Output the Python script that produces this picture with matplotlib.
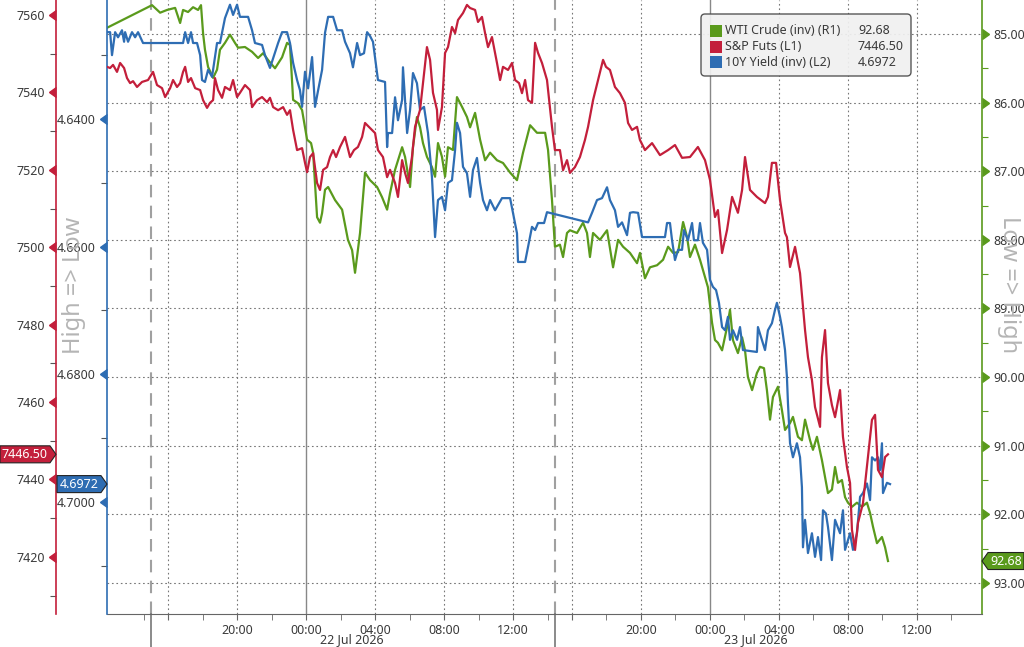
import matplotlib
matplotlib.use('Agg')
import matplotlib.pyplot as plt
import matplotlib.transforms as mtransforms
from matplotlib.patches import Polygon, Rectangle, FancyBboxPatch
from matplotlib.ticker import MultipleLocator, FormatStrFormatter
from matplotlib.markers import CARETRIGHTBASE, CARETLEFTBASE

# time = hours from 22 Jul 00:00 on a session axis (14:25-15:00 halt squeezed out)
wti_pts = [(-11.54, 84.91), (-8.93, 84.58), (-8.46, 84.69), (-8.06, 84.65), (-7.59, 84.62), (-7.30, 84.84),
           (-7.13, 84.65), (-6.84, 84.68), (-6.55, 84.61), (-6.26, 84.65), (-6.09, 84.58), (-5.97, 84.99),
           (-5.86, 85.23), (-5.68, 85.48), (-5.39, 85.64), (-5.16, 85.52), (-4.99, 85.23), (-4.70, 85.13),
           (-4.41, 85.01), (-4.12, 85.13), (-3.94, 85.20), (-3.54, 85.19), (-3.13, 85.26), (-2.78, 85.35),
           (-2.49, 85.28), (-2.20, 85.38), (-1.80, 85.50), (-1.39, 85.34), (-1.10, 85.13), (-0.93, 85.16),
           (-0.75, 85.96), (-0.46, 86.01), (-0.23, 86.11), (0.06, 86.54), (0.29, 86.59), (0.41, 86.73),
           (0.64, 87.67), (0.81, 87.75), (0.93, 87.61), (1.10, 87.27), (1.28, 87.23), (1.68, 87.42),
           (2.09, 87.56), (2.43, 88.00), (2.67, 88.15), (2.84, 88.48), (3.13, 87.90), (3.42, 87.02),
           (3.71, 87.13), (4.12, 87.23), (4.41, 87.38), (4.70, 87.56), (4.87, 87.32), (5.16, 86.98),
           (5.57, 86.65), (5.74, 86.79), (6.03, 87.23), (6.20, 86.65), (6.43, 86.21), (6.61, 86.36),
           (6.78, 86.59), (7.01, 86.79), (7.30, 86.94), (7.48, 87.08), (7.65, 86.59), (7.88, 86.79),
           (8.06, 87.08), (8.23, 86.65), (8.52, 86.69), (8.75, 85.92), (9.04, 86.06), (9.33, 86.21),
           (9.51, 86.36), (9.80, 86.15), (10.09, 86.54), (10.38, 86.84), (10.67, 86.73), (11.07, 86.84),
           (11.42, 86.88), (11.83, 87.02), (12.23, 87.13), (12.58, 86.73), (12.99, 86.33), (13.39, 86.44),
           (13.86, 86.44), (14.03, 86.69), (14.26, 87.42), (14.43, 88.10), (14.72, 88.07), (14.90, 88.25),
           (15.13, 87.90), (15.30, 87.86), (15.71, 87.90), (16.06, 87.75), (16.29, 87.90), (16.46, 88.25),
           (16.64, 87.90), (17.04, 88.00), (17.45, 87.86), (17.80, 88.40), (18.09, 88.00), (18.38, 88.10),
           (18.78, 88.19), (19.19, 88.34), (19.36, 88.19), (19.65, 88.56), (19.94, 88.40), (20.35, 88.37),
           (20.70, 88.29), (20.99, 88.10), (21.28, 88.19), (21.57, 88.18), (21.86, 87.74), (22.09, 87.96),
           (22.26, 88.25), (22.55, 88.07), (22.84, 88.29), (23.13, 88.54), (23.30, 88.69), (23.54, 89.21),
           (23.71, 89.46), (23.88, 89.50), (24.12, 89.61), (24.41, 89.27), (24.58, 89.02), (24.75, 89.46),
           (25.04, 89.65), (25.28, 89.42), (25.45, 89.61), (25.62, 90.00), (25.86, 90.19), (26.14, 89.94),
           (26.32, 89.85), (26.55, 89.87), (26.72, 90.19), (26.90, 90.62), (27.07, 90.29), (27.36, 90.14),
           (27.59, 90.48), (27.77, 90.77), (28.06, 90.67), (28.23, 90.58), (28.52, 90.87), (28.75, 90.92),
           (28.93, 90.62), (29.22, 90.92), (29.39, 91.06), (29.62, 90.87), (29.91, 91.21), (30.09, 91.46),
           (30.26, 91.69), (30.49, 91.64), (30.67, 91.31), (30.84, 91.54), (31.07, 91.50), (31.25, 91.75),
           (31.42, 91.83), (31.65, 91.89), (31.94, 91.83), (32.23, 91.89), (32.52, 91.83), (32.70, 91.98),
           (32.87, 92.18), (33.10, 92.42), (33.39, 92.33), (33.57, 92.48), (33.74, 92.68)]

spx_pts = [(-11.54, 7546.6), (-11.36, 7546.3), (-11.19, 7547.1), (-10.96, 7545.3), (-10.78, 7547.6),
           (-10.55, 7546.3), (-10.38, 7543.7), (-10.20, 7542.4), (-10.03, 7542.9), (-9.80, 7541.4),
           (-9.51, 7542.7), (-9.16, 7543.2), (-8.87, 7545.3), (-8.64, 7541.9), (-8.35, 7541.1),
           (-8.17, 7538.8), (-7.88, 7541.1), (-7.71, 7543.2), (-7.48, 7541.4), (-7.30, 7542.4),
           (-7.13, 7545.3), (-7.01, 7546.6), (-6.84, 7542.7), (-6.67, 7543.7), (-6.43, 7541.1),
           (-6.14, 7540.6), (-5.97, 7538.0), (-5.74, 7536.0), (-5.57, 7537.3), (-5.39, 7538.0),
           (-5.28, 7543.7), (-5.10, 7540.6), (-4.87, 7538.6), (-4.70, 7541.4), (-4.41, 7540.6),
           (-4.23, 7543.2), (-4.00, 7538.8), (-3.83, 7539.9), (-3.54, 7541.9), (-3.25, 7540.6),
           (-3.13, 7536.2), (-2.84, 7538.0), (-2.55, 7538.8), (-2.26, 7537.5), (-2.09, 7538.6),
           (-1.91, 7536.2), (-1.62, 7535.4), (-1.33, 7536.2), (-1.10, 7534.2), (-0.93, 7535.4),
           (-0.75, 7530.3), (-0.52, 7525.1), (-0.23, 7525.6), (-0.06, 7521.8), (0.06, 7519.4),
           (0.23, 7523.3), (0.41, 7524.3), (0.64, 7516.6), (0.81, 7514.8), (0.99, 7520.0),
           (1.22, 7520.7), (1.39, 7523.3), (1.57, 7525.1), (1.74, 7523.3), (1.97, 7525.9),
           (2.26, 7528.5), (2.55, 7523.3), (2.78, 7525.1), (3.01, 7525.9), (3.25, 7528.5),
           (3.42, 7532.1), (3.71, 7530.8), (4.00, 7529.5), (4.17, 7525.1), (4.46, 7523.3),
           (4.70, 7518.1), (4.87, 7520.0), (5.16, 7516.6), (5.33, 7513.0), (5.57, 7522.5),
           (5.74, 7519.2), (5.91, 7516.6), (6.14, 7523.3), (6.32, 7531.1), (6.61, 7535.5),
           (6.78, 7542.4), (7.01, 7551.7), (7.19, 7548.4), (7.36, 7539.9), (7.59, 7535.5),
           (7.65, 7530.3), (7.88, 7536.2), (8.06, 7550.2), (8.23, 7551.7), (8.46, 7556.9),
           (8.64, 7555.3), (8.81, 7558.7), (9.10, 7560.5), (9.33, 7562.6), (9.51, 7561.8),
           (9.80, 7561.3), (9.97, 7558.2), (10.20, 7559.5), (10.38, 7555.3), (10.55, 7551.7),
           (10.78, 7554.3), (11.07, 7547.6), (11.25, 7543.2), (11.42, 7546.6), (11.71, 7545.8),
           (11.94, 7547.6), (12.12, 7543.2), (12.35, 7542.4), (12.52, 7539.8), (12.70, 7543.2),
           (12.87, 7538.0), (13.10, 7537.3), (13.28, 7552.8), (13.45, 7550.2), (13.68, 7547.6),
           (13.97, 7543.2), (14.26, 7531.1), (14.43, 7525.1), (14.72, 7525.1), (14.90, 7519.9),
           (15.13, 7522.5), (15.30, 7519.2), (15.59, 7520.7), (15.88, 7523.3), (16.17, 7527.7),
           (16.35, 7531.1), (16.64, 7538.0), (16.93, 7543.2), (17.22, 7548.4), (17.39, 7546.6),
           (17.62, 7545.8), (17.91, 7541.4), (18.20, 7539.8), (18.49, 7537.3), (18.67, 7532.1),
           (18.90, 7530.3), (19.19, 7531.1), (19.36, 7527.7), (19.65, 7525.1), (20.06, 7526.9),
           (20.52, 7523.8), (20.99, 7525.1), (21.39, 7526.4), (21.80, 7523.1), (22.26, 7523.3),
           (22.72, 7525.9), (23.13, 7522.5), (23.42, 7517.4), (23.71, 7507.8), (23.88, 7509.6),
           (24.12, 7498.5), (24.41, 7504.5), (24.70, 7513.0), (25.04, 7508.9), (25.28, 7514.8),
           (25.45, 7523.3), (25.74, 7514.8), (26.14, 7513.0), (26.61, 7511.4), (26.78, 7513.0),
           (27.01, 7521.8), (27.25, 7521.8), (27.48, 7512.2), (27.77, 7503.7), (27.88, 7502.6),
           (28.06, 7494.9), (28.35, 7500.1), (28.64, 7493.3), (28.93, 7478.6), (29.10, 7471.6),
           (29.33, 7465.7), (29.51, 7458.7), (29.80, 7453.6), (29.91, 7471.6), (30.09, 7478.6),
           (30.26, 7464.9), (30.49, 7459.2), (30.67, 7456.1), (30.96, 7463.1), (31.13, 7451.0),
           (31.36, 7443.2), (31.54, 7439.1), (31.65, 7427.0), (31.83, 7421.8), (32.00, 7428.8),
           (32.29, 7433.9), (32.58, 7445.8), (32.81, 7455.4), (32.99, 7456.7), (33.16, 7442.5),
           (33.39, 7440.6), (33.57, 7445.8), (33.74, 7446.5)]

yld_pts = [(-11.54, 4.6264), (-11.36, 4.6264), (-11.25, 4.6300), (-11.07, 4.6264), (-10.90, 4.6272),
           (-10.67, 4.6261), (-10.55, 4.6279), (-10.49, 4.6264), (-10.32, 4.6279), (-10.09, 4.6264),
           (-9.91, 4.6272), (-9.74, 4.6264), (-9.45, 4.6281), (-7.13, 4.6281), (-7.01, 4.6264),
           (-6.84, 4.6281), (-6.67, 4.6264), (-6.55, 4.6281), (-6.32, 4.6281), (-6.14, 4.6300),
           (-6.03, 4.6339), (-5.86, 4.6342), (-5.68, 4.6323), (-5.45, 4.6334), (-5.16, 4.6281),
           (-4.99, 4.6281), (-4.70, 4.6242), (-4.41, 4.6221), (-4.23, 4.6237), (-4.00, 4.6221),
           (-3.83, 4.6240), (-3.36, 4.6240), (-3.13, 4.6261), (-2.96, 4.6281), (-2.55, 4.6284),
           (-2.38, 4.6300), (-2.09, 4.6320), (-1.91, 4.6305), (-1.62, 4.6281), (-1.39, 4.6264),
           (-1.10, 4.6264), (-0.93, 4.6281), (-0.75, 4.6312), (-0.52, 4.6339), (-0.35, 4.6355),
           (-0.23, 4.6381), (-0.06, 4.6326), (0.12, 4.6352), (0.35, 4.6303), (0.52, 4.6381),
           (0.70, 4.6355), (0.93, 4.6323), (1.10, 4.6265), (1.28, 4.6240), (1.57, 4.6240),
           (1.80, 4.6261), (2.09, 4.6261), (2.26, 4.6279), (2.55, 4.6297), (2.72, 4.6319),
           (2.96, 4.6281), (3.13, 4.6300), (3.36, 4.6297), (3.54, 4.6264), (3.71, 4.6270),
           (3.88, 4.6279), (4.17, 4.6339), (4.58, 4.6342), (4.70, 4.6444), (4.75, 4.6422),
           (4.99, 4.6422), (5.16, 4.6366), (5.33, 4.6402), (5.57, 4.6370), (5.62, 4.6319),
           (5.86, 4.6422), (6.03, 4.6386), (6.20, 4.6328), (6.43, 4.6344), (6.61, 4.6386),
           (6.84, 4.6381), (7.07, 4.6422), (7.30, 4.6491), (7.48, 4.6585), (7.65, 4.6527),
           (7.88, 4.6522), (8.06, 4.6543), (8.23, 4.6500), (8.46, 4.6496), (8.64, 4.6449),
           (8.75, 4.6406), (8.93, 4.6422), (9.10, 4.6475), (9.33, 4.6485), (9.51, 4.6522),
           (9.68, 4.6480), (9.91, 4.6461), (10.09, 4.6500), (10.26, 4.6527), (10.49, 4.6543),
           (10.67, 4.6527), (10.96, 4.6543), (11.36, 4.6524), (11.83, 4.6524), (12.00, 4.6547),
           (12.23, 4.6579), (12.29, 4.6624), (12.70, 4.6624), (12.87, 4.6601), (13.10, 4.6569),
           (13.28, 4.6574), (13.45, 4.6563), (13.80, 4.6563), (13.97, 4.6546), (16.35, 4.6562),
           (16.58, 4.6547), (16.87, 4.6527), (17.16, 4.6524), (17.45, 4.6507), (17.62, 4.6527),
           (17.91, 4.6543), (18.09, 4.6569), (18.32, 4.6562), (18.61, 4.6582), (18.78, 4.6547),
           (18.96, 4.6546), (19.25, 4.6547), (19.48, 4.6585), (20.81, 4.6585), (20.93, 4.6563),
           (21.10, 4.6563), (21.22, 4.6590), (21.39, 4.6621), (21.57, 4.6605), (21.80, 4.6605),
           (21.91, 4.6574), (22.14, 4.6590), (22.38, 4.6563), (22.49, 4.6590), (22.72, 4.6590),
           (22.84, 4.6563), (23.01, 4.6594), (23.25, 4.6605), (23.42, 4.6652), (23.59, 4.6663),
           (23.77, 4.6668), (23.94, 4.6688), (24.12, 4.6726), (24.29, 4.6731), (24.46, 4.6710),
           (24.58, 4.6746), (24.75, 4.6731), (24.99, 4.6746), (25.16, 4.6726), (25.33, 4.6762),
           (26.14, 4.6765), (26.20, 4.6726), (26.43, 4.6746), (26.61, 4.6762), (26.78, 4.6731),
           (27.01, 4.6720), (27.19, 4.6699), (27.30, 4.6688), (27.48, 4.6710), (27.59, 4.6726),
           (27.77, 4.6762), (27.88, 4.6804), (27.94, 4.6845), (28.06, 4.6908), (28.23, 4.6930),
           (28.46, 4.6908), (28.64, 4.6930), (28.75, 4.6977), (28.81, 4.7071), (28.93, 4.7028),
           (29.10, 4.7080), (29.33, 4.7049), (29.51, 4.7086), (29.68, 4.7055), (29.86, 4.7091),
           (29.97, 4.7013), (30.14, 4.7018), (30.26, 4.7039), (30.49, 4.7091), (30.67, 4.7028),
           (30.96, 4.7049), (31.13, 4.7013), (31.25, 4.7075), (31.54, 4.7049), (31.71, 4.7075),
           (31.94, 4.7049), (32.12, 4.6992), (32.29, 4.6986), (32.52, 4.6971), (32.70, 4.6997),
           (32.81, 4.6930), (32.99, 4.6935), (33.16, 4.6930), (33.28, 4.6950), (33.39, 4.6908),
           (33.45, 4.6986), (33.68, 4.6970), (33.86, 4.6972)]

wti_t, wti = zip(*wti_pts)
spx_t, spx = zip(*spx_pts)
yld_t, yld = zip(*yld_pts)

# real clock hours (from 22 Jul 00:00) used for the time axis
major_hours = [-8, -4, 0, 4, 8, 12, 16, 20, 24, 28, 32, 36]
minor_hours = [-10, -6, -2, 2, 6, 10, 14, 18, 22, 26, 30, 34, 38]
midnights = [(0, '22 Jul 2026'), (24, '23 Jul 2026')]
session_starts = [-9, 15]

GAP = 35 / 60


def session_x(h):
    if h >= 15:
        return h - GAP
    if h <= -9 - GAP:
        return h + GAP
    return h


GREEN = '#5a9a1c'
RED = '#c31f3b'
BLUE = '#2e6db3'
TXT = '#3a3a3a'

plt.rcParams['font.family'] = ['Noto Sans', 'DejaVu Sans']
plt.rcParams['font.size'] = 9

W, H = 1024, 647
fig = plt.figure(figsize=(W / 100, H / 100), dpi=100)
left, right, bottom = 107, 982, 614
ax = fig.add_axes([left / W, 1 - bottom / H, (right - left) / W, bottom / H])
axb = ax.twinx()
axr = ax.twinx()
ax.yaxis.tick_right()

ax.set_xlim(-11.54, 39.19)
ax.set_ylim(93.452, 84.505)
axb.set_ylim(4.71755, 4.62136)
axr.set_ylim(7405.25, 7563.87)

# spines
for a in (ax, axb, axr):
    for s in a.spines.values():
        s.set_visible(False)
ax.spines['right'].set_visible(True)
ax.spines['right'].set_color(GREEN)
ax.spines['right'].set_linewidth(1.2)
ax.spines['bottom'].set_visible(True)
ax.spines['bottom'].set_color('#666666')
axb.yaxis.tick_left()
axb.spines['left'].set_visible(True)
axb.spines['left'].set_color(BLUE)
axb.spines['left'].set_linewidth(1.2)
axr.yaxis.tick_left()
axr.spines['left'].set_visible(True)
axr.spines['left'].set_position(('axes', (56 - left) / (right - left)))
axr.spines['left'].set_color(RED)
axr.spines['left'].set_linewidth(1.2)

# y ticks
ax.yaxis.set_major_locator(MultipleLocator(1))
ax.yaxis.set_minor_locator(MultipleLocator(0.5))
ax.yaxis.set_major_formatter(FormatStrFormatter('%.2f'))
axb.yaxis.set_major_locator(MultipleLocator(0.02))
axb.yaxis.set_minor_locator(MultipleLocator(0.01))
axb.yaxis.set_major_formatter(FormatStrFormatter('%.4f'))
axr.yaxis.set_major_locator(MultipleLocator(20))
axr.yaxis.set_minor_locator(MultipleLocator(10))
axr.yaxis.set_major_formatter(FormatStrFormatter('%d'))

ax.tick_params(axis='y', which='major', length=7, width=1, color=GREEN, labelcolor=TXT, pad=1)
ax.tick_params(axis='y', which='minor', length=4, width=0.8, color=GREEN)
axb.tick_params(axis='y', which='major', length=7, width=1, color=BLUE, labelcolor=TXT, pad=1)
axb.tick_params(axis='y', which='minor', length=4, width=0.8, color='#555555')
axr.tick_params(axis='y', which='major', length=7, width=1, color=RED, labelcolor=TXT, pad=1)
axr.tick_params(axis='y', which='minor', length=4, width=0.8, color='#555555')

for tk in ax.yaxis.get_major_ticks():
    tk.tick2line.set_marker(CARETRIGHTBASE)
for a in (axb, axr):
    for tk in a.yaxis.get_major_ticks():
        tk.tick1line.set_marker(CARETLEFTBASE)

# x ticks
ax.set_xticks([session_x(h) for h in major_hours],
              ['' if h in (-8, 16) else '%02d:00' % (h % 24) for h in major_hours])
ax.set_xticks([session_x(h) for h in minor_hours], minor=True)
ax.tick_params(axis='x', which='both', length=4, color='#666666', labelcolor=TXT, pad=3)

# grid
ax.grid(axis='y', which='major', color='#777777', lw=0.8, ls=(0, (1.5, 2.5)))
for h in major_hours:
    if h not in (0, 24):
        ax.axvline(session_x(h), color='#777777', lw=0.8, ls=(0, (1.5, 2.5)), zorder=0.5)
blend = mtransforms.blended_transform_factory(ax.transData, ax.transAxes)
for h, lab in midnights:
    ax.axvline(session_x(h), color='#888888', lw=1.0, zorder=0.5)
    ax.annotate(lab, xy=(session_x(h), 0), xycoords=blend, xytext=(33, -14),
                textcoords='offset points', ha='center', va='top', color=TXT)
for h in session_starts:
    ax.axvline(session_x(h), color='#a0a0a0', lw=1.5, ls=(0, (6, 4)), zorder=0.5)
    ax.plot([session_x(h)] * 2, [0, -0.07], transform=blend, clip_on=False, color='#777777', lw=1.2)

# series
ax.plot(wti_t, wti, color=GREEN, lw=1.6, zorder=3)
axb.plot(yld_t, yld, color=BLUE, lw=1.6, zorder=3)
axr.plot(spx_t, spx, color=RED, lw=1.6, zorder=3)

# side labels
fig.text(74 / W, 1 - 285 / H, 'High => Low', rotation=90, color='#b5b5b5', fontsize=17,
         ha='center', va='center')
fig.text(1009 / W, 1 - 285 / H, 'Low => High', rotation=270, color='#b5b5b5', fontsize=17,
         ha='center', va='center')

# last value badges
ident = mtransforms.IdentityTransform()


def badge(a, value, text, color, x0, x1, tip_right):
    yc = a.transData.transform((0, value))[1]
    hh = 8.5
    if tip_right:
        pts = [(x0, yc - hh), (x1 - 6, yc - hh), (x1, yc), (x1 - 6, yc + hh), (x0, yc + hh)]
    else:
        pts = [(x0, yc), (x0 + 6, yc + hh), (x1, yc + hh), (x1, yc - hh), (x0 + 6, yc - hh)]
    fig.add_artist(Polygon(pts, closed=True, transform=ident, facecolor=color,
                           edgecolor='#222222', lw=0.8, zorder=5))
    xt = (x0 + x1 - 6) / 2 if tip_right else (x0 + x1 + 6) / 2
    fig.text(xt, yc, text, transform=ident, color='white', ha='center', va='center',
             fontsize=9, zorder=6)


badge(axr, spx[-1], '%.2f' % spx[-1], RED, 0, 56, True)
badge(axb, yld[-1], '%.4f' % yld[-1], BLUE, 57, 107, True)
badge(ax, wti[-1], '%.2f' % wti[-1], GREEN, 982, 1024, False)

# legend
fig.add_artist(FancyBboxPatch((701, H - 76), 210, 62, boxstyle='round,pad=0,rounding_size=4',
                              transform=ident, facecolor='#f0f0f0', edgecolor='#4a4a4a',
                              lw=1, alpha=0.92, zorder=5))
rows = [('WTI Crude (inv) (R1)', '%.2f' % wti[-1], GREEN),
        ('S&P Futs (L1)', '%.2f' % spx[-1], RED),
        ('10Y Yield (inv) (L2)', '%.4f' % yld[-1], BLUE)]
for i, (name, val, col) in enumerate(rows):
    yc = H - (31 + 15.5 * i)
    fig.add_artist(Rectangle((710, yc - 6), 12, 12, transform=ident, facecolor=col,
                             edgecolor='none', zorder=6))
    fig.text(725, yc, name, transform=ident, color=TXT, ha='left', va='center', fontsize=9, zorder=6)
    fig.text(858, yc, val, transform=ident, color=TXT, ha='left', va='center', fontsize=9, zorder=6)

fig.savefig('out.png', dpi=100, facecolor='white')
